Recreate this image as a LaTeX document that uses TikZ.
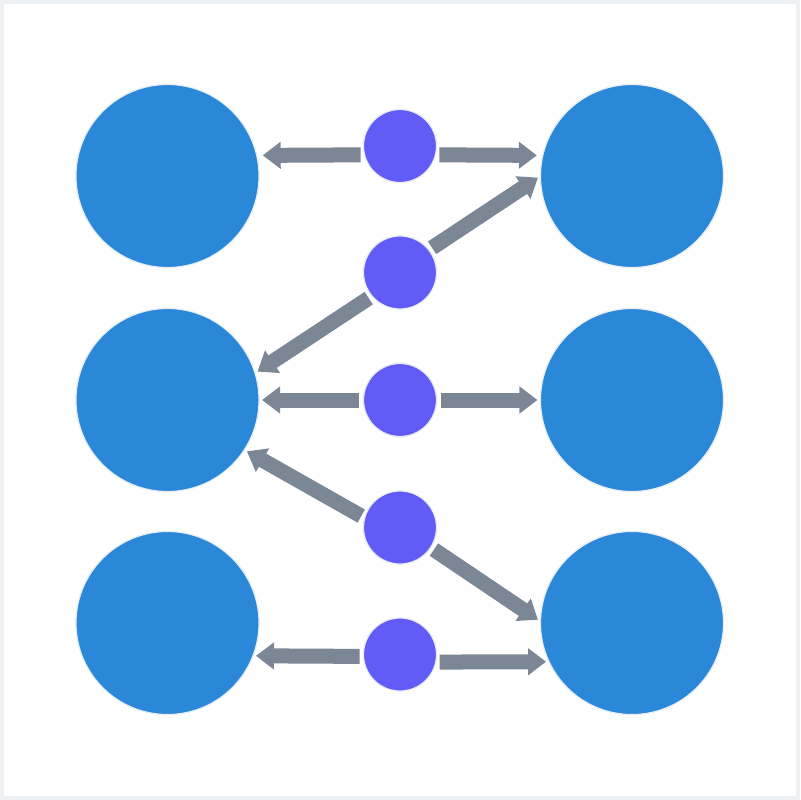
\documentclass[tikz,border=0pt]{standalone}
\usetikzlibrary{arrows.meta}
\definecolor{framegray}{HTML}{EEF1F4}
\definecolor{nodeblue}{HTML}{2B88D8}
\definecolor{hubviolet}{HTML}{635BF5}
\definecolor{arrowgray}{HTML}{7B8794}
\definecolor{ring}{HTML}{E4ECF6}

\begin{document}
\begin{tikzpicture}[x=0.025cm, y=-0.025cm,
	bigdot/.style={circle, fill=nodeblue, draw=ring, line width=0.03cm, inner sep=0, outer sep=0, minimum size=4.575cm},
	hub/.style={circle, fill=hubviolet, draw=ring, line width=0.03cm, inner sep=0, outer sep=0, minimum size=1.825cm},
	arr/.style={draw=arrowgray, line width=0.375cm, -{Triangle[length=0.45cm, width=0.65cm]}, shorten <=0.1cm, shorten >=0.075cm}]
	% frame
	\fill[framegray] (0,0) rectangle (800,800);
	\fill[white, rounded corners=0.05cm] (4,4) rectangle (796,796);
	% outer circles
	\node[bigdot] (b1) at (167.5,176) {};
	\node[bigdot] (b2) at (632,176) {};
	\node[bigdot] (b3) at (167.5,400) {};
	\node[bigdot] (b4) at (632,400) {};
	\node[bigdot] (b5) at (167.5,623) {};
	\node[bigdot] (b6) at (632,623) {};
	% middle hubs
	\node[hub] (s1) at (400,146) {};
	\node[hub] (s2) at (400,272.5) {};
	\node[hub] (s3) at (400,400) {};
	\node[hub] (s4) at (400,527.5) {};
	\node[hub] (s5) at (400,654.5) {};
	% arrows
	\draw[arr, shorten >=0.15cm] (s1.194) -- (b1.13);
	\draw[arr, shorten >=0.15cm] (s1.-14) -- (b2.167);
	\draw[arr] (s2.38) -- (b2.180);
	\draw[arr] (s2.220) -- (b3.17);
	\draw[arr] (s3.180) -- (b3.0);
	\draw[arr] (s3.0) -- (b4.180);
	\draw[arr] (s4.165) -- (b3.-33);
	\draw[arr] (s4.-33) -- (b6.179);
	\draw[arr] (s5.183) -- (b5.-21);
	\draw[arr] (s5.-12) -- (b6.205);
\end{tikzpicture}
\end{document}
